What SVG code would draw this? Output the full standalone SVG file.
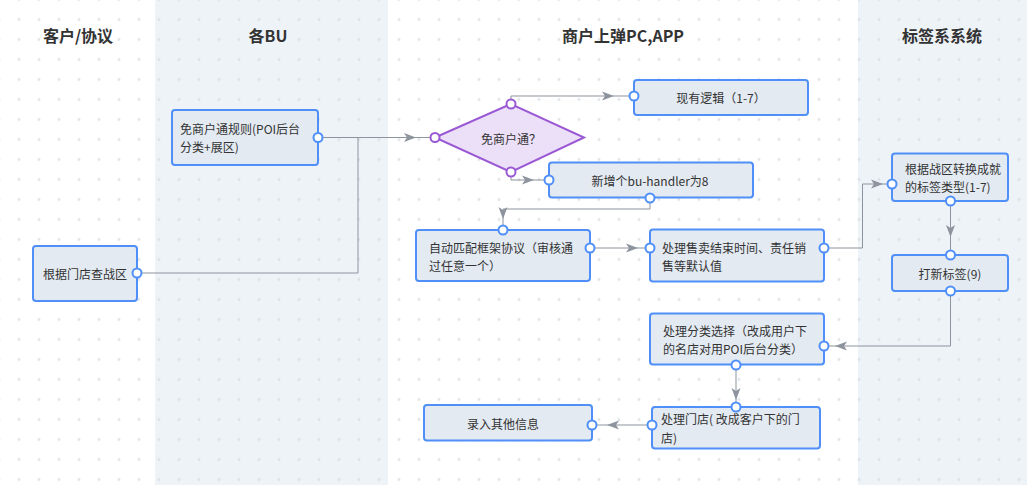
<svg xmlns="http://www.w3.org/2000/svg" width="1027" height="485" viewBox="0 0 1027 485">
<style>
.lane{fill:#eef3f8}
.title{font-family:"Noto Sans CJK SC","Liberation Sans",sans-serif;font-size:16px;font-weight:bold;fill:#333;text-anchor:middle}
.box{fill:#e3eaf2;stroke:#4f8ff7;stroke-width:2}
.dia{fill:#ecdff8;stroke:#9a58d4;stroke-width:2}
.t{font-family:"Noto Sans CJK SC","Liberation Sans",sans-serif;font-size:12px;fill:#333;dominant-baseline:central}
.c{text-anchor:middle}
.ln{fill:none;stroke:#8d949e;stroke-width:1}
.port{fill:#fff;stroke:#4f8ff7;stroke-width:2}
.pport{fill:#fff;stroke:#9a58d4;stroke-width:2}
</style>
<defs>
<pattern id="grid" patternUnits="userSpaceOnUse" x="9" y="9.5" width="20" height="20">
<path d="M8.5,10H11.5M10,8.5V11.5" stroke="#d6dade" stroke-width="1"/>
</pattern>
<marker id="arr" markerUnits="userSpaceOnUse" markerWidth="14" markerHeight="12" viewBox="0 0 14 12" refX="13" refY="6" orient="auto">
<path d="M1,1.5L13,6L1,10.5L4,6z" fill="#8d949e"/>
</marker>
</defs>
<rect width="1027" height="485" fill="#fff"/>
<rect class="lane" x="155" y="0" width="233" height="485"/>
<rect class="lane" x="858" y="0" width="169" height="485"/>
<rect width="1027" height="485" fill="url(#grid)"/>
<g id="lane-titles">
<text class="title" x="78" y="42">客户/协议</text>
<text class="title" x="268" y="42">各BU</text>
<text class="title" x="623" y="42">商户上弹PC,APP</text>
<text class="title" x="942" y="42">标签系系统</text>
</g>
<g id="connectors">
<path class="ln" d="M318,137.5H416" marker-end="url(#arr)"/>
<path class="ln" d="M416,137.5H431"/>
<path class="ln" d="M137,273H358V137.5"/>
<path class="ln" d="M511,104V96H614" marker-end="url(#arr)"/>
<path class="ln" d="M614,96H630"/>
<path class="ln" d="M511,172V180H534" marker-end="url(#arr)"/>
<path class="ln" d="M534,180H545"/>
<path class="ln" d="M650,198V209H503V219" marker-end="url(#arr)"/>
<path class="ln" d="M503,219V226"/>
<path class="ln" d="M590,248H638" marker-end="url(#arr)"/>
<path class="ln" d="M638,248H646"/>
<path class="ln" d="M824,248H862.5V184H883" marker-end="url(#arr)"/>
<path class="ln" d="M883,184H888"/>
<path class="ln" d="M950.5,201V237" marker-end="url(#arr)"/>
<path class="ln" d="M950.5,237V251"/>
<path class="ln" d="M950.5,291V346H835" marker-end="url(#arr)"/>
<path class="ln" d="M835,346H828"/>
<path class="ln" d="M736,365V400" marker-end="url(#arr)"/>
<path class="ln" d="M736,400V403"/>
<path class="ln" d="M652,425H607" marker-end="url(#arr)"/>
<path class="ln" d="M607,425H596"/>
</g>
<g id="n1">
<rect class="box" x="172" y="110" width="146" height="55" rx="3"/>
<text class="t" x="180" y="128.5">免商户通规则(POI后台</text>
<text class="t" x="180" y="146.5">分类+展区)</text>
<circle class="port" cx="318" cy="137.5" r="4.5"/>
</g>
<g id="n2">
<rect class="box" x="33" y="246" width="104" height="55" rx="3"/>
<text class="t c" x="85" y="273.5">根据门店查战区</text>
<circle class="port" cx="137" cy="273" r="4.5"/>
</g>
<g id="n3">
<polygon class="dia" points="435,137.5 511,104 584,137.5 511,172"/>
<text class="t c" x="511" y="138">免商户通？</text>
<circle class="pport" cx="435" cy="137.5" r="4.5"/>
<circle class="pport" cx="511" cy="104" r="4.5"/>
<circle class="pport" cx="511" cy="172" r="4.5"/>
</g>
<g id="n4">
<rect class="box" x="634" y="80" width="174" height="35" rx="3"/>
<text class="t c" x="721" y="97.5">现有逻辑（1-7）</text>
<circle class="port" cx="634" cy="96" r="4.5"/>
</g>
<g id="n5">
<rect class="box" x="549" y="162.5" width="204" height="35" rx="3"/>
<text class="t c" x="650" y="180.5">新增个bu-handler为8</text>
<circle class="port" cx="549" cy="180" r="4.5"/>
<circle class="port" cx="650" cy="198" r="4.5"/>
</g>
<g id="n6">
<rect class="box" x="416" y="230" width="174" height="51" rx="3"/>
<text class="t" x="429" y="247">自动匹配框架协议（审核通</text>
<text class="t" x="429" y="265">过任意一个）</text>
<circle class="port" cx="503" cy="230" r="4.5"/>
<circle class="port" cx="590" cy="248" r="4.5"/>
</g>
<g id="n7">
<rect class="box" x="650" y="229.5" width="174" height="52" rx="3"/>
<text class="t" x="662" y="247">处理售卖结束时间、责任销</text>
<text class="t" x="662" y="265">售等默认值</text>
<circle class="port" cx="650" cy="248" r="4.5"/>
<circle class="port" cx="824" cy="248" r="4.5"/>
</g>
<g id="n8">
<rect class="box" x="892" y="153.5" width="116" height="47.5" rx="3"/>
<text class="t" x="905" y="168.5">根据战区转换成就</text>
<text class="t" x="905" y="186">的标签类型(1-7)</text>
<circle class="port" cx="892" cy="184" r="4.5"/>
<circle class="port" cx="950.5" cy="201" r="4.5"/>
</g>
<g id="n9">
<rect class="box" x="892" y="255" width="116" height="36" rx="3"/>
<text class="t c" x="950" y="273.5">打新标签(9)</text>
<circle class="port" cx="950.5" cy="255" r="4.5"/>
<circle class="port" cx="950.5" cy="291" r="4.5"/>
</g>
<g id="n10">
<rect class="box" x="650" y="313.5" width="174" height="51" rx="3"/>
<text class="t" x="663" y="330.5">处理分类选择（改成用户下</text>
<text class="t" x="663" y="348.5">的名店对用POI后台分类）</text>
<circle class="port" cx="824" cy="346" r="4.5"/>
<circle class="port" cx="736" cy="365" r="4.5"/>
</g>
<g id="n11">
<rect class="box" x="652" y="407" width="168" height="41.5" rx="3"/>
<text class="t" x="661" y="418.5">处理门店( 改成客户下的门</text>
<text class="t" x="661" y="437">店)</text>
<circle class="port" cx="736" cy="407" r="4.5"/>
<circle class="port" cx="652" cy="425" r="4.5"/>
</g>
<g id="n12">
<rect class="box" x="424" y="405" width="168" height="35.5" rx="3"/>
<text class="t c" x="503" y="423.5">录入其他信息</text>
<circle class="port" cx="592" cy="425" r="4.5"/>
</g>
</svg>
